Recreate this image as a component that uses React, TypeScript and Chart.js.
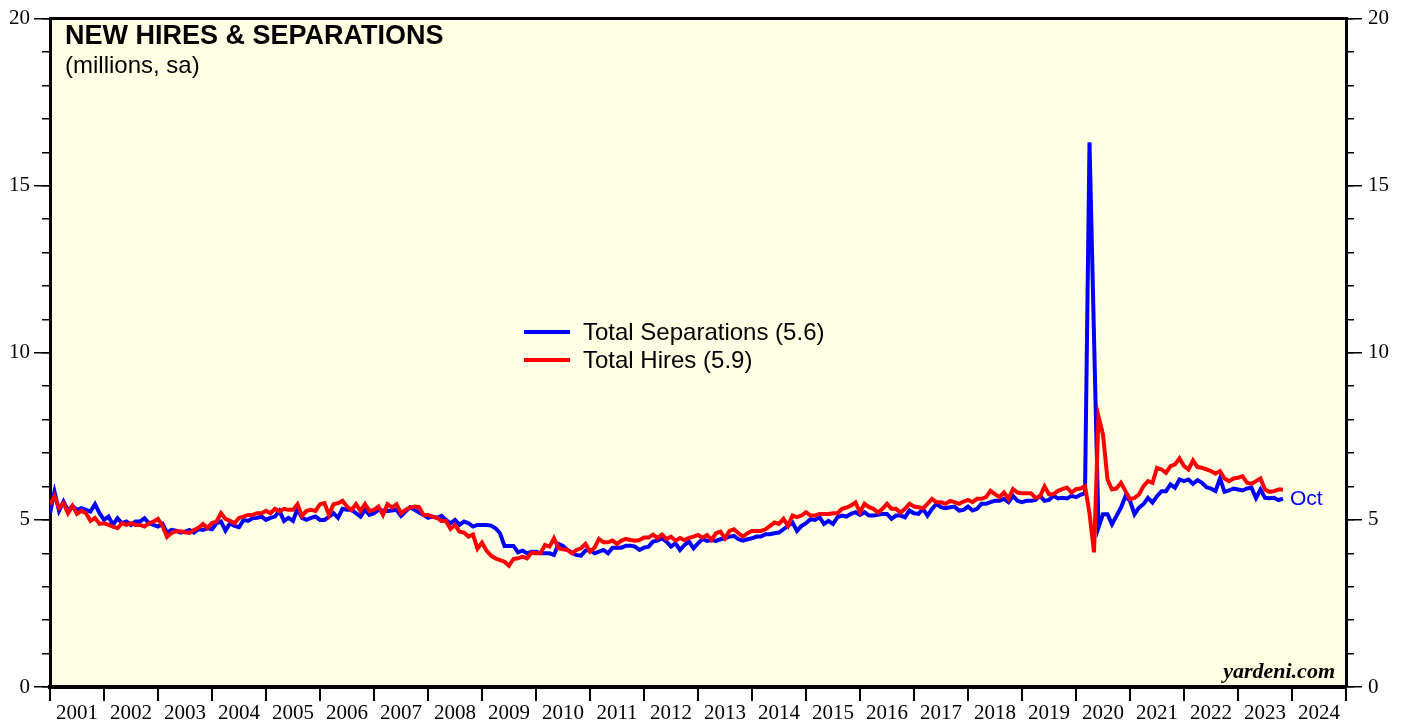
import React, { useEffect, useRef } from "react";
import { Chart, registerables } from "chart.js";

Chart.register(...registerables);

// Monthly data, first value = Dec 2000, last value = Oct 2023 (millions, sa)
const startYear = 2001;
const endYear = 2025;

const separations: number[] = [
  5.2,
  5.84, 5.27, 5.55, 5.27, 5.42, 5.3, 5.35, 5.3, 5.25, 5.47, 5.2, 5.0, // 2001
  5.1, 4.85, 5.05, 4.9, 4.95, 4.85, 4.95, 4.95, 5.05, 4.9, 4.85, 4.8, // 2002
  4.88, 4.62, 4.7, 4.68, 4.62, 4.65, 4.7, 4.62, 4.72, 4.7, 4.75, 4.72, // 2003
  4.9, 4.95, 4.68, 4.9, 4.82, 4.78, 5.0, 4.97, 5.05, 5.06, 5.1, 5.0, // 2004
  5.06, 5.1, 5.27, 4.97, 5.06, 4.97, 5.33, 5.06, 5.0, 5.06, 5.1, 5.0, // 2005
  5.0, 5.1, 5.2, 5.06, 5.33, 5.3, 5.3, 5.2, 5.1, 5.3, 5.15, 5.2, // 2006
  5.3, 5.28, 5.27, 5.28, 5.3, 5.12, 5.25, 5.38, 5.3, 5.22, 5.15, 5.06, // 2007
  5.1, 5.06, 5.12, 5.0, 4.9, 5.0, 4.85, 4.95, 4.9, 4.8, 4.85, 4.85, // 2008
  4.85, 4.83, 4.75, 4.6, 4.22, 4.22, 4.22, 4.03, 4.08, 4.0, 4.05, 4.05, // 2009
  4.0, 4.0, 4.0, 3.95, 4.28, 4.22, 4.1, 4.02, 3.95, 3.93, 4.08, 4.1, // 2010
  4.0, 4.05, 4.1, 4.0, 4.17, 4.17, 4.17, 4.23, 4.23, 4.2, 4.1, 4.17, // 2011
  4.2, 4.35, 4.38, 4.45, 4.35, 4.2, 4.3, 4.1, 4.25, 4.35, 4.15, 4.3, // 2012
  4.43, 4.37, 4.4, 4.37, 4.42, 4.45, 4.5, 4.52, 4.42, 4.38, 4.42, 4.45, // 2013
  4.5, 4.5, 4.57, 4.57, 4.6, 4.62, 4.72, 4.82, 4.92, 4.67, 4.82, 4.9, // 2014
  5.02, 5.0, 5.08, 4.88, 4.97, 4.88, 5.08, 5.13, 5.1, 5.18, 5.23, 5.15, // 2015
  5.23, 5.13, 5.13, 5.15, 5.18, 5.18, 5.03, 5.13, 5.13, 5.08, 5.28, 5.2, // 2016
  5.18, 5.33, 5.13, 5.33, 5.48, 5.38, 5.35, 5.38, 5.4, 5.28, 5.3, 5.4, // 2017
  5.28, 5.33, 5.48, 5.48, 5.53, 5.57, 5.57, 5.63, 5.53, 5.72, 5.57, 5.53, // 2018
  5.57, 5.57, 5.6, 5.72, 5.57, 5.6, 5.72, 5.64, 5.66, 5.64, 5.72, 5.68, // 2019
  5.75, 5.8, 16.3, 10.5, 4.77, 5.17, 5.17, 4.87, 5.12, 5.37, 5.71, 5.57, // 2020
  5.17, 5.37, 5.47, 5.66, 5.52, 5.71, 5.86, 5.86, 6.06, 5.96, 6.21, 6.16, // 2021
  6.21, 6.08, 6.19, 6.11, 5.98, 5.94, 5.86, 6.24, 5.84, 5.88, 5.94, 5.91, // 2022
  5.88, 5.94, 5.96, 5.65, 5.91, 5.66, 5.65, 5.66, 5.59, 5.64, // 2023
];

const hires: number[] = [
  5.45,
  5.71, 5.36, 5.5, 5.2, 5.42, 5.18, 5.27, 5.2, 4.97, 5.06, 4.88, 4.9, // 2001
  4.85, 4.8, 4.75, 4.9, 4.85, 4.9, 4.85, 4.85, 4.8, 4.9, 4.95, 5.03, // 2002
  4.82, 4.49, 4.61, 4.66, 4.66, 4.63, 4.61, 4.7, 4.76, 4.88, 4.76, 4.91, // 2003
  4.95, 5.2, 5.03, 4.97, 4.9, 5.06, 5.1, 5.15, 5.15, 5.2, 5.2, 5.27, // 2004
  5.2, 5.33, 5.25, 5.33, 5.3, 5.3, 5.47, 5.12, 5.27, 5.3, 5.27, 5.47, // 2005
  5.5, 5.15, 5.47, 5.5, 5.57, 5.4, 5.3, 5.47, 5.27, 5.47, 5.27, 5.3, // 2006
  5.4, 5.15, 5.47, 5.37, 5.47, 5.2, 5.3, 5.37, 5.4, 5.38, 5.15, 5.15, // 2007
  5.1, 5.06, 4.97, 4.97, 4.73, 4.85, 4.65, 4.62, 4.5, 4.56, 4.14, 4.32, // 2008
  4.08, 3.93, 3.85, 3.8, 3.75, 3.63, 3.83, 3.85, 3.9, 3.85, 4.02, 4.0, // 2009
  4.0, 4.25, 4.2, 4.45, 4.15, 4.12, 4.1, 4.0, 4.1, 4.15, 4.28, 4.05, // 2010
  4.17, 4.43, 4.33, 4.33, 4.38, 4.28, 4.38, 4.43, 4.4, 4.38, 4.4, 4.47, // 2011
  4.47, 4.56, 4.46, 4.56, 4.43, 4.5, 4.38, 4.46, 4.4, 4.46, 4.5, 4.55, // 2012
  4.47, 4.55, 4.4, 4.6, 4.65, 4.45, 4.67, 4.72, 4.6, 4.5, 4.6, 4.67, // 2013
  4.67, 4.67, 4.72, 4.82, 4.92, 4.88, 5.03, 4.82, 5.13, 5.08, 5.13, 5.23, // 2014
  5.13, 5.13, 5.18, 5.18, 5.18, 5.2, 5.2, 5.33, 5.37, 5.43, 5.52, 5.23, // 2015
  5.48, 5.38, 5.33, 5.22, 5.33, 5.48, 5.33, 5.33, 5.22, 5.33, 5.48, 5.4, // 2016
  5.38, 5.35, 5.48, 5.63, 5.53, 5.53, 5.48, 5.57, 5.53, 5.48, 5.55, 5.6, // 2017
  5.53, 5.63, 5.63, 5.68, 5.87, 5.77, 5.68, 5.82, 5.63, 5.92, 5.82, 5.8, // 2018
  5.8, 5.8, 5.66, 5.7, 6.0, 5.77, 5.77, 5.87, 5.92, 5.97, 5.82, 5.92, // 2019
  5.94, 6.01, 5.2, 4.03, 8.1, 7.55, 6.21, 5.91, 5.94, 6.11, 5.86, 5.62, // 2020
  5.66, 5.76, 6.01, 6.16, 6.11, 6.56, 6.51, 6.41, 6.61, 6.66, 6.84, 6.61, // 2021
  6.51, 6.78, 6.58, 6.56, 6.51, 6.46, 6.38, 6.46, 6.24, 6.16, 6.24, 6.26, // 2022
  6.31, 6.11, 6.08, 6.16, 6.24, 5.91, 5.84, 5.86, 5.91, 5.91, // 2023
];

const seriesNames = ["Total Separations (5.6)", "Total Hires (5.9)"];
const seriesColors = ["#0000FF", "#FF0000"];
const yMajorTicks = [0, 5, 10, 15, 20];

// time axis: value i = months after Dec 2000
const toPoints = (arr: number[]) => arr.map((v, i) => ({ x: startYear + i / 12, y: v }));

const serif = "'Liberation Serif', 'Times New Roman', serif";
const sans = "'Liberation Sans', Arial, sans-serif";

const bgPlugin = {
  id: "bgFill",
  beforeDraw(chart: any) {
    const { ctx, chartArea } = chart;
    ctx.save();
    ctx.fillStyle = "#FFFFE4";
    ctx.fillRect(chartArea.left, chartArea.top, chartArea.right - chartArea.left, chartArea.bottom - chartArea.top);
    ctx.restore();
  },
};

export default function App() {
  const ref = useRef<HTMLCanvasElement | null>(null);

  useEffect(() => {
    if (!ref.current) return;
    const tickFont = { family: serif, size: 21 };
    const chart = new Chart(ref.current, {
      type: "line",
      data: {
        datasets: [
          {
            label: seriesNames[1],
            data: toPoints(hires),
            borderColor: seriesColors[1],
            borderWidth: 4,
            pointRadius: 0,
            tension: 0,
            order: 0,
            xAxisID: "x",
            yAxisID: "yL",
          },
          {
            label: seriesNames[0],
            data: toPoints(separations),
            borderColor: seriesColors[0],
            borderWidth: 4,
            pointRadius: 0,
            tension: 0,
            order: 1,
            xAxisID: "x",
            yAxisID: "yL",
          },
        ],
      },
      options: {
        animation: false,
        responsive: false,
        devicePixelRatio: 1,
        layout: { padding: 0 },
        plugins: { legend: { display: false }, tooltip: { enabled: false } },
        scales: {
          x: {
            type: "linear",
            position: "bottom",
            min: startYear,
            max: endYear,
            afterBuildTicks: (s: any) => {
              const t = [];
              for (let y = startYear; y <= endYear; y++) t.push({ value: y });
              s.ticks = t;
            },
            ticks: {
              autoSkip: false,
              maxRotation: 0,
              labelOffset: 27,
              padding: 0,
              color: "#000",
              font: tickFont,
              callback: (v: any) => (Number(v) < endYear ? String(v) : ""),
            },
            grid: { drawOnChartArea: false, tickLength: 14, color: "#000", lineWidth: 2 },
            border: { display: true, color: "#000", width: 4 },
            afterFit: (s: any) => {
              s.height = 34;
            },
          },
          xTop: {
            type: "linear",
            position: "top",
            min: startYear,
            max: endYear,
            ticks: { display: false },
            grid: { display: false, drawTicks: false },
            border: { display: true, color: "#000", width: 3 },
            afterFit: (s: any) => {
              s.height = 15;
            },
          },
          yL: {
            type: "linear",
            position: "left",
            min: 0,
            max: 20,
            weight: 1,
            afterBuildTicks: (s: any) => {
              s.ticks = yMajorTicks.map((v) => ({ value: v }));
            },
            ticks: { color: "#000", font: tickFont, padding: 4 },
            grid: { drawOnChartArea: false, tickLength: 16, color: "#000", lineWidth: 1.5 },
            border: { display: true, color: "#000", width: 3 },
            afterFit: (s: any) => {
              s.width = 50;
            },
          },
          yLm: {
            type: "linear",
            position: "left",
            min: 0,
            max: 20,
            weight: 0,
            ticks: { display: false, stepSize: 1 },
            grid: { drawOnChartArea: false, tickLength: 8, color: "#000", lineWidth: 1.5 },
            border: { display: false },
            afterFit: (s: any) => {
              s.width = 0;
            },
          },
          yR: {
            type: "linear",
            position: "right",
            min: 0,
            max: 20,
            weight: 1,
            afterBuildTicks: (s: any) => {
              s.ticks = yMajorTicks.map((v) => ({ value: v }));
            },
            ticks: { color: "#000", font: tickFont, padding: 6 },
            grid: { drawOnChartArea: false, tickLength: 16, color: "#000", lineWidth: 1.5 },
            border: { display: true, color: "#000", width: 3 },
            afterFit: (s: any) => {
              s.width = 60;
            },
          },
          yRm: {
            type: "linear",
            position: "right",
            min: 0,
            max: 20,
            weight: 0,
            ticks: { display: false, stepSize: 1 },
            grid: { drawOnChartArea: false, tickLength: 8, color: "#000", lineWidth: 1.5 },
            border: { display: false },
            afterFit: (s: any) => {
              s.width = 0;
            },
          },
        },
      } as any,
      plugins: [bgPlugin],
    });
    return () => chart.destroy();
  }, []);

  const abs = (o: any): React.CSSProperties => ({ position: "absolute", whiteSpace: "nowrap", ...o });

  return (
    <div style={{ position: "absolute", left: 0, top: 0, width: 1406, height: 721, background: "#fff" }}>
      <canvas ref={ref} width={1406} height={721} style={{ position: "absolute", left: 0, top: 0 }} />
      <div style={abs({ left: 65, top: 22, font: `bold 27px ${sans}`, lineHeight: "27px", color: "#000" })}>
        NEW HIRES &amp; SEPARATIONS
      </div>
      <div style={abs({ left: 65, top: 53, font: `24px ${sans}`, lineHeight: "24px", color: "#000" })}>
        (millions, sa)
      </div>
      <div style={abs({ left: 524, top: 330, width: 46, height: 4, background: seriesColors[0] })} />
      <div style={abs({ left: 583, top: 320, font: `24px ${sans}`, lineHeight: "24px", color: "#000" })}>
        {seriesNames[0]}
      </div>
      <div style={abs({ left: 524, top: 358, width: 46, height: 4, background: seriesColors[1] })} />
      <div style={abs({ left: 583, top: 348, font: `24px ${sans}`, lineHeight: "24px", color: "#000" })}>
        {seriesNames[1]}
      </div>
      <div style={abs({ left: 1290, top: 487, font: `21px ${sans}`, lineHeight: "21px", color: seriesColors[0] })}>
        Oct
      </div>
      <div
        style={abs({
          left: 1135,
          width: 200,
          textAlign: "right",
          top: 660,
          font: `italic bold 22px ${serif}`,
          lineHeight: "22px",
          color: "#000",
        })}
      >
        yardeni.com
      </div>
    </div>
  );
}
